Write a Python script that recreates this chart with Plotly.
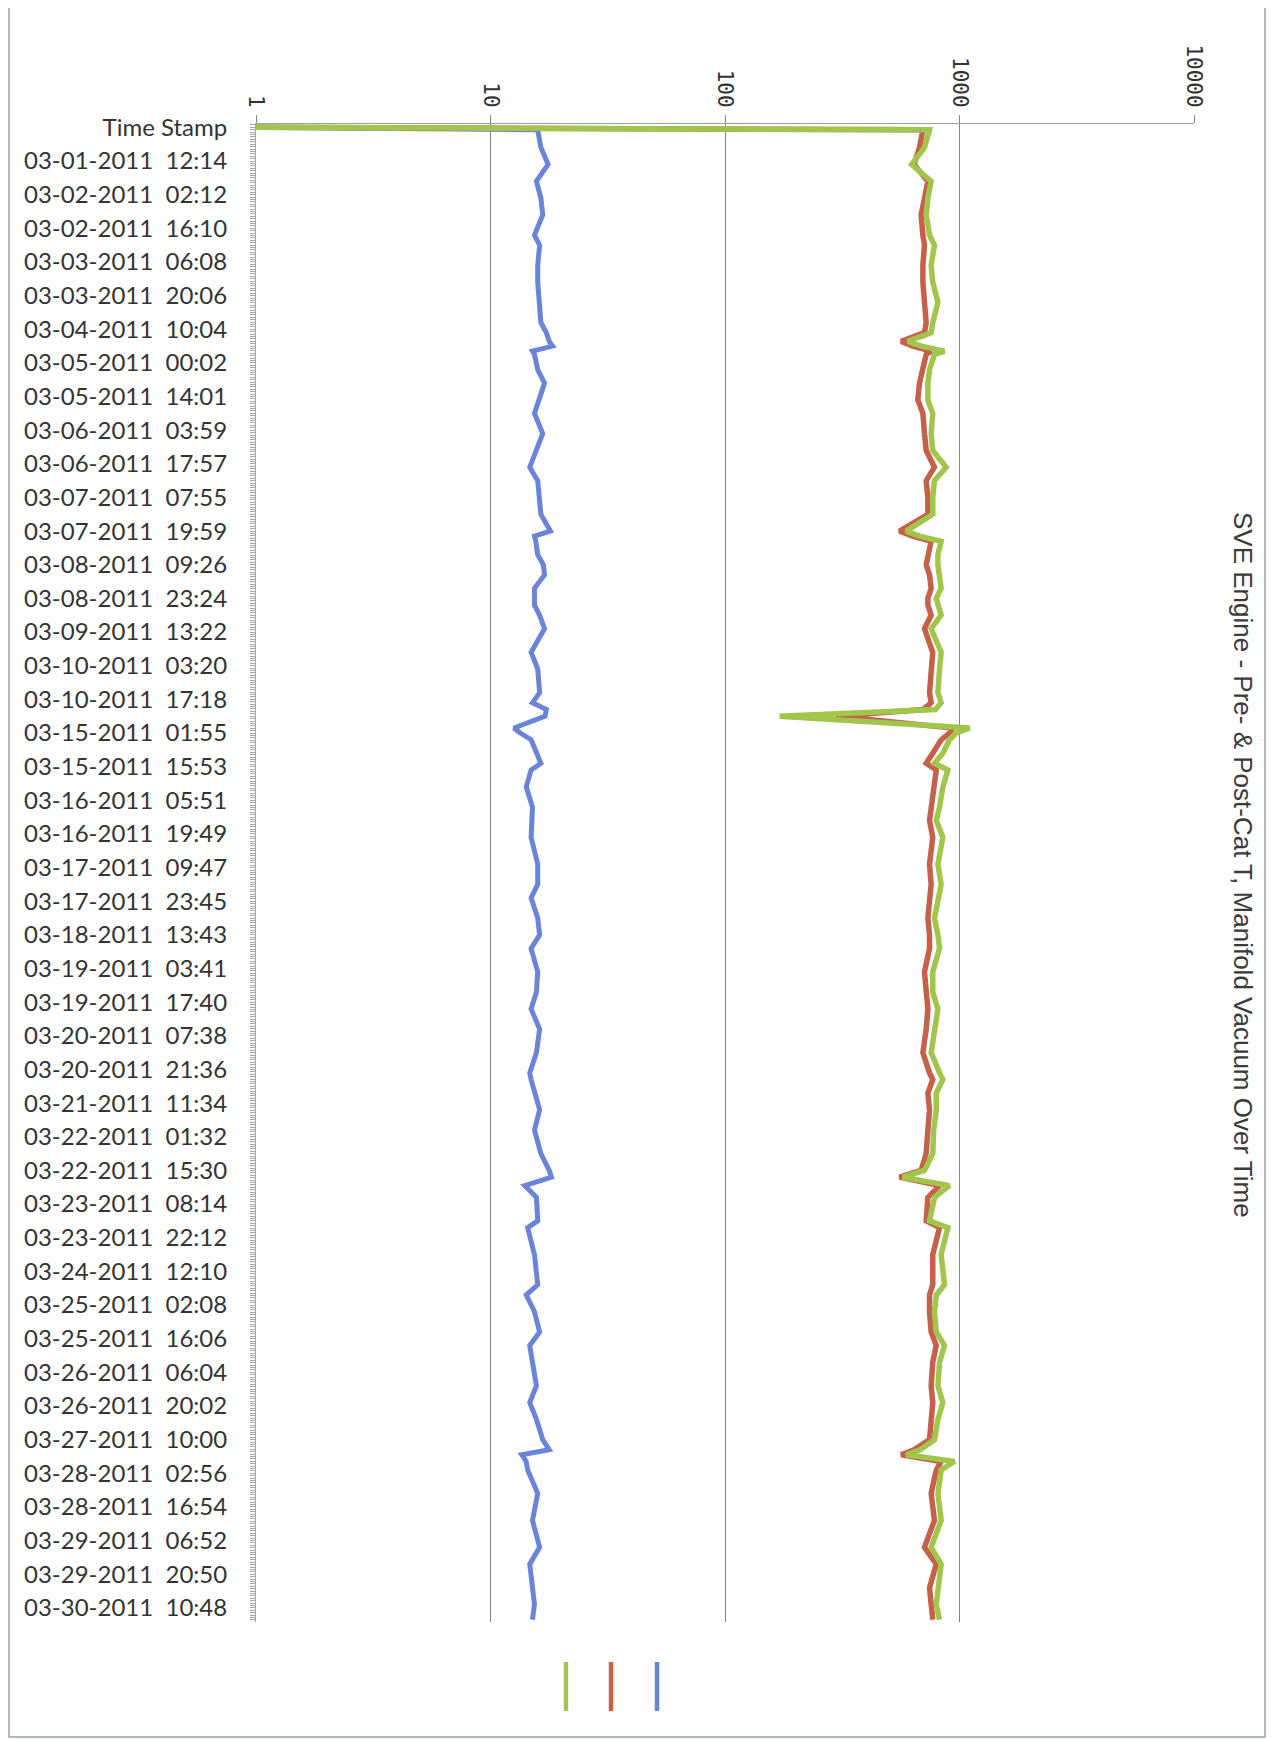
import plotly.graph_objects as go

# category labels down the (rotated) time axis
TIME_LABELS = [
    "Time Stamp",
    "03-01-2011  12:14", "03-02-2011  02:12", "03-02-2011  16:10", "03-03-2011  06:08",
    "03-03-2011  20:06", "03-04-2011  10:04", "03-05-2011  00:02", "03-05-2011  14:01",
    "03-06-2011  03:59", "03-06-2011  17:57", "03-07-2011  07:55", "03-07-2011  19:59",
    "03-08-2011  09:26", "03-08-2011  23:24", "03-09-2011  13:22", "03-10-2011  03:20",
    "03-10-2011  17:18", "03-15-2011  01:55", "03-15-2011  15:53", "03-16-2011  05:51",
    "03-16-2011  19:49", "03-17-2011  09:47", "03-17-2011  23:45", "03-18-2011  13:43",
    "03-19-2011  03:41", "03-19-2011  17:40", "03-20-2011  07:38", "03-20-2011  21:36",
    "03-21-2011  11:34", "03-22-2011  01:32", "03-22-2011  15:30", "03-23-2011  08:14",
    "03-23-2011  22:12", "03-24-2011  12:10", "03-25-2011  02:08", "03-25-2011  16:06",
    "03-26-2011  06:04", "03-26-2011  20:02", "03-27-2011  10:00", "03-28-2011  02:56",
    "03-28-2011  16:54", "03-29-2011  06:52", "03-29-2011  20:50", "03-30-2011  10:48",
]

# row position of each reading, in units of one labelled row
ROW = [0, 0.07, 0.6, 1.1, 1.6, 2.1, 2.6, 3.2, 3.5, 4.1, 4.6, 5.2, 5.8, 6.1, 6.36, 6.5, 6.65, 6.75,
       7.2, 7.6, 8.1, 8.5, 9.1, 9.6, 10.1, 10.5, 11.0, 11.5, 12.0, 12.15, 12.3, 12.7, 13.0, 13.3,
       13.7, 14.0, 14.2, 14.5, 14.9, 15.6, 16.1, 16.8, 17.1, 17.3, 17.5, 17.85, 18.0, 18.2, 18.6,
       18.9, 19.1, 19.6, 20.2, 20.6, 21.1, 21.9, 22.5, 22.9, 23.5, 24.0, 24.4, 25.1, 25.7, 26.2,
       26.8, 27.5, 28.1, 28.3, 28.7, 29.2, 29.8, 30.5, 31.0, 31.2, 31.45, 31.8, 32.5, 32.7, 33.5,
       34.4, 34.7, 35.2, 35.8, 36.2, 36.7, 37.4, 37.9, 38.4, 39.0, 39.3, 39.45, 39.65, 39.9, 40.6,
       41.4, 42.2, 42.7, 43.4, 43.9, 44.35]

MANIFOLD_VACUUM = [1, 15.9, 16.4, 17.6, 15.7, 16.4, 16.7, 15.4, 16.2, 15.9, 15.9, 16.2, 16.4, 17.3,
                   17.8, 18.4, 15.1, 15.4, 15.9, 17.0, 16.2, 15.4, 16.7, 15.7, 14.7, 15.9, 16.2,
                   16.4, 18.0, 15.4, 15.6, 15.9, 16.8, 17.0, 15.4, 15.4, 15.4, 16.2, 17.0, 14.9,
                   15.9, 16.2, 15.1, 17.3, 17.1, 12.6, 13.4, 14.9, 15.8, 16.4, 14.9, 14.2, 15.1,
                   15.0, 14.9, 15.9, 15.9, 14.9, 15.9, 16.2, 14.9, 15.9, 15.7, 14.9, 16.2, 15.7,
                   14.7, 14.9, 15.4, 16.2, 15.4, 16.4, 17.8, 18.2, 14.0, 15.7, 15.9, 14.4, 15.4,
                   15.9, 14.2, 15.4, 16.2, 14.7, 15.1, 15.7, 14.7, 15.7, 16.7, 17.8, 13.6, 14.2,
                   14.4, 15.9, 15.1, 16.2, 14.7, 15.1, 15.4, 15.1]

PRE_CAT_T = [1, 698, 675, 640, 733, 709, 686, 698, 709, 698, 698, 709, 721, 709, 564, 632, 757, 721,
             698, 675, 664, 698, 709, 721, 782, 721, 733, 733, 555, 632, 757, 733, 721, 745, 757,
             733, 733, 757, 709, 769, 757, 745, 757, 700, 298, 936, 906, 835, 769, 721, 796, 782,
             757, 745, 769, 745, 757, 745, 733, 745, 745, 709, 721, 733, 721, 698, 745, 769, 733,
             745, 733, 721, 686, 555, 822, 733, 721, 822, 769, 769, 745, 745, 757, 796, 769, 757,
             769, 757, 745, 640, 564, 835, 796, 757, 782, 709, 796, 745, 757, 769]

POST_CAT_T = [1, 745, 709, 625, 757, 733, 721, 745, 782, 757, 769, 809, 769, 757, 602, 686, 863, 782,
              745, 733, 733, 769, 757, 769, 877, 782, 769, 769, 592, 675, 835, 809, 809, 822, 835,
              796, 809, 835, 757, 835, 822, 809, 835, 790, 171, 1104, 968, 906, 849, 782, 892, 849,
              822, 796, 849, 809, 835, 809, 782, 809, 822, 769, 769, 809, 782, 757, 822, 849, 796,
              796, 776, 769, 709, 573, 906, 782, 745, 892, 835, 863, 796, 782, 796, 863, 822, 809,
              849, 809, 782, 680, 592, 952, 835, 809, 835, 757, 835, 809, 796, 822]

X_TICKS = [1, 10, 100, 1000, 10000]

BLUE = "#6A84D8"
RED = "#C5604A"
GREEN = "#A2C54C"
GRID = "#7E8786"

# the page puts the figure 8px in from the top-left corner
OFF = 8
W, H = 1274 - OFF, 1740 - OFF
L, R, T, B = 256 - OFF, 80, 124 - OFF, 118
PW, PH = W - L - R, H - T - B


def px_x(v):
    return (v - OFF - L) / PW


def px_y(v):
    return (H - B - (v - OFF)) / PH


fig = go.Figure()
fig.add_trace(go.Scatter(x=MANIFOLD_VACUUM, y=ROW, mode="lines", name="Manifold Vacuum",
                         line={"color": BLUE, "width": 5}))
fig.add_trace(go.Scatter(x=PRE_CAT_T, y=ROW, mode="lines", name="Pre-Cat T",
                         line={"color": RED, "width": 5.5}))
fig.add_trace(go.Scatter(x=POST_CAT_T, y=ROW, mode="lines", name="Post-Cat T",
                         line={"color": GREEN, "width": 5.5}))

fig.update_xaxes(
    type="log", range=[0, 4], side="top",
    tickvals=X_TICKS, ticktext=[str(v) for v in X_TICKS], tickangle=90,
    tickfont={"family": "DejaVu Sans Mono", "size": 21, "color": "#333333"},
    showgrid=True, gridcolor=GRID, gridwidth=1,
    ticks="outside", ticklen=8, tickcolor=GRID,
    showline=True, linecolor="#9A9F9F", linewidth=1, zeroline=False,
)
fig.update_yaxes(
    range=[44.42, -0.1], autorange=False,
    tickmode="array", tickvals=list(range(len(TIME_LABELS))), ticktext=TIME_LABELS,
    tickfont={"family": "Lato", "size": 24, "color": "#333333"},
    ticks="outside", ticklen=5, tickcolor="#A0A6AA", ticklabelstandoff=18,
    minor={"tickmode": "linear", "tick0": 0, "dtick": 1 / 14, "ticks": "outside",
           "ticklen": 5, "tickcolor": "#A0A6AA"},
    showgrid=False, showline=True, linecolor="#A0A6AA", linewidth=1, zeroline=False,
)

shapes = [
    # outer chart border
    dict(type="rect", xref="paper", yref="paper",
         x0=px_x(9), x1=px_x(1265), y0=px_y(1737), y1=px_y(7),
         line={"color": "#9AA2A4", "width": 1.5}),
]
# legend keys (vertical, text lost in the scan)
for cx, col in [(566, GREEN), (611, RED), (657, BLUE)]:
    shapes.append(dict(type="line", xref="paper", yref="paper",
                       x0=px_x(cx), x1=px_x(cx), y0=px_y(1662), y1=px_y(1711),
                       line={"color": col, "width": 4.5}))

fig.update_layout(
    width=W, height=H,
    margin={"l": L, "r": R, "t": T, "b": B},
    paper_bgcolor="white", plot_bgcolor="white",
    showlegend=False,
    shapes=shapes,
    annotations=[dict(
        text="SVE Engine - Pre- & Post-Cat T, Manifold Vacuum Over Time",
        xref="paper", yref="paper", x=px_x(1243), y=px_y(865),
        xanchor="center", yanchor="middle",
        textangle=90, showarrow=False,
        font={"family": "Liberation Sans, Arial", "size": 26, "color": "#3A3A3A"},
    )],
)

fig.write_html("out.html")
